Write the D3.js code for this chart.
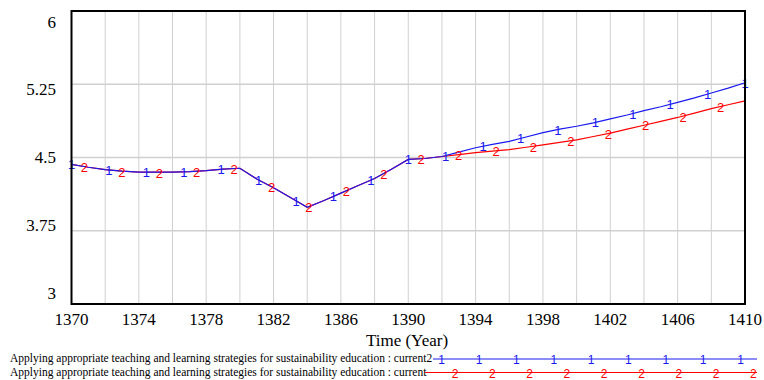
<!DOCTYPE html>
<html><head><meta charset="utf-8">
<script src="https://cdn.jsdelivr.net/npm/d3@7"></script>
<style>body{margin:0;background:#fff}svg{display:block}</style>
</head><body>
<svg id="chart" width="764" height="380"></svg>
<script>
const years = d3.range(1370, 1411);
const current = [4.43,4.40,4.375,4.36,4.35,4.35,4.35,4.355,4.365,4.38,4.39,
  4.28,4.19,4.09,3.99,4.06,4.135,4.21,4.285,4.38,4.48,
  4.49,4.51,4.53,4.55,4.565,4.58,4.605,4.63,4.655,4.68,
  4.715,4.75,4.79,4.83,4.87,4.91,4.955,5.0,5.04,5.08];
const current2 = [4.43,4.40,4.375,4.36,4.35,4.35,4.35,4.355,4.365,4.38,4.39,
  4.28,4.19,4.09,3.99,4.06,4.135,4.21,4.285,4.38,4.48,
  4.49,4.51,4.555,4.60,4.635,4.665,4.71,4.755,4.79,4.82,
  4.855,4.895,4.935,4.98,5.02,5.065,5.11,5.16,5.21,5.265];
const xTicks = [1370,1374,1378,1382,1386,1390,1394,1398,1402,1406,1410];
const yTicks = [3, 3.75, 4.5, 5.25, 6];
const yTickLabels = ["3","3.75","4.5","5.25","6"];
const seriesNames = [
  "Applying appropriate teaching and learning strategies for sustainability education : current2",
  "Applying appropriate teaching and learning strategies for sustainability education : current"
];

const svg = d3.select("#chart");
const L = 71.5, R = 745, T = 11, B = 304;
const x = d3.scaleLinear().domain([1370,1410]).range([L,R]);
const y = d3.scaleLinear().domain([3,6]).range([B,T]);
const yLab = d3.scaleLinear().domain([3,6]).range([299,27.5]);

// grid
const g = svg.append("g");
g.selectAll(".vg").data(d3.range(1372,1410,2)).join("line")
  .attr("x1",d=>x(d)).attr("x2",d=>x(d)).attr("y1",T).attr("y2",B)
  .attr("stroke","#d0d0d0").attr("stroke-width",1);
g.selectAll(".hg").data([3.75,4.5,5.25]).join("line")
  .attr("x1",L).attr("x2",R).attr("y1",d=>y(d)).attr("y2",d=>y(d))
  .attr("stroke","#d0d0d0").attr("stroke-width",1.5);

// lines
const line = d3.line().x((d,i)=>x(years[i])).y(d=>y(d));
const interpRed = d3.scaleLinear().domain(years).range(current);
const interpBlue = d3.scaleLinear().domain(years).range(current2);

svg.append("path").datum(current).attr("d",line).attr("fill","none")
  .attr("stroke","#ff0000").attr("stroke-width",1.2);
svg.append("path").datum(current2).attr("d",line).attr("fill","none")
  .attr("stroke","#1a1aee").attr("stroke-width",1.2);

const step = 40/18;
const blueMk = d3.range(19).map(k=>1370+k*step);
const redMk = d3.range(18).map(k=>1370.77+k*step);
svg.selectAll(".mr").data(redMk).join("text")
  .attr("x",d=>x(d)).attr("y",d=>y(interpRed(d))+5.5)
  .attr("text-anchor","middle").attr("font-family","Liberation Sans, Arial, sans-serif")
  .attr("font-size",13).attr("fill","#ff0000").text("2");
svg.selectAll(".mb").data(blueMk).join("text")
  .attr("x",d=>x(d)).attr("y",d=>y(interpBlue(d))+5)
  .attr("text-anchor","middle").attr("font-family","Liberation Sans, Arial, sans-serif")
  .attr("font-size",13).attr("fill","#1a1aee").text("1");

// frame
svg.append("rect").attr("x",L).attr("y",T).attr("width",R-L).attr("height",B-T)
  .attr("fill","none").attr("stroke","#000").attr("stroke-width",2);

// axis labels
const serif = "Liberation Serif, Times New Roman, serif";
svg.selectAll(".xl").data(xTicks).join("text")
  .attr("x",d=>x(d)).attr("y",325).attr("text-anchor","middle")
  .attr("font-family",serif).attr("font-size",17).attr("fill","#000").text(d=>d);
svg.selectAll(".yl").data(yTicks).join("text")
  .attr("x",56).attr("y",d=>yLab(d)).attr("text-anchor","end")
  .attr("font-family",serif).attr("font-size",17).attr("fill","#000")
  .text((d,i)=>yTickLabels[i]);
svg.append("text").attr("x",407).attr("y",346).attr("text-anchor","middle")
  .attr("font-family",serif).attr("font-size",17).attr("fill","#000").text("Time (Year)");

// legend
const lg = svg.append("g");
lg.append("text").attr("x",10).attr("y",361.5).attr("font-family",serif)
  .attr("font-size",11.5).attr("fill","#000").text(seriesNames[0]);
lg.append("text").attr("x",10).attr("y",376).attr("font-family",serif)
  .attr("font-size",11.5).attr("fill","#000").text(seriesNames[1]);
lg.append("line").attr("x1",433).attr("x2",757).attr("y1",359).attr("y2",359)
  .attr("stroke","#1a1aee").attr("stroke-width",1.2);
lg.append("line").attr("x1",425).attr("x2",757).attr("y1",372.5).attr("y2",372.5)
  .attr("stroke","#ff0000").attr("stroke-width",1.2);
const lb = d3.range(9).map(k=>441.7+k*37.35);
const lr = d3.range(9).map(k=>455+k*37.3);
lg.selectAll(".lb").data(lb).join("text").attr("x",d=>d).attr("y",363.5)
  .attr("text-anchor","middle").attr("font-family","Liberation Sans, Arial, sans-serif")
  .attr("font-size",12).attr("fill","#1a1aee").text("1");
lg.selectAll(".lr").data(lr).join("text").attr("x",d=>d).attr("y",377.5)
  .attr("text-anchor","middle").attr("font-family","Liberation Sans, Arial, sans-serif")
  .attr("font-size",12).attr("fill","#ff0000").text("2");
</script>
</body></html>
